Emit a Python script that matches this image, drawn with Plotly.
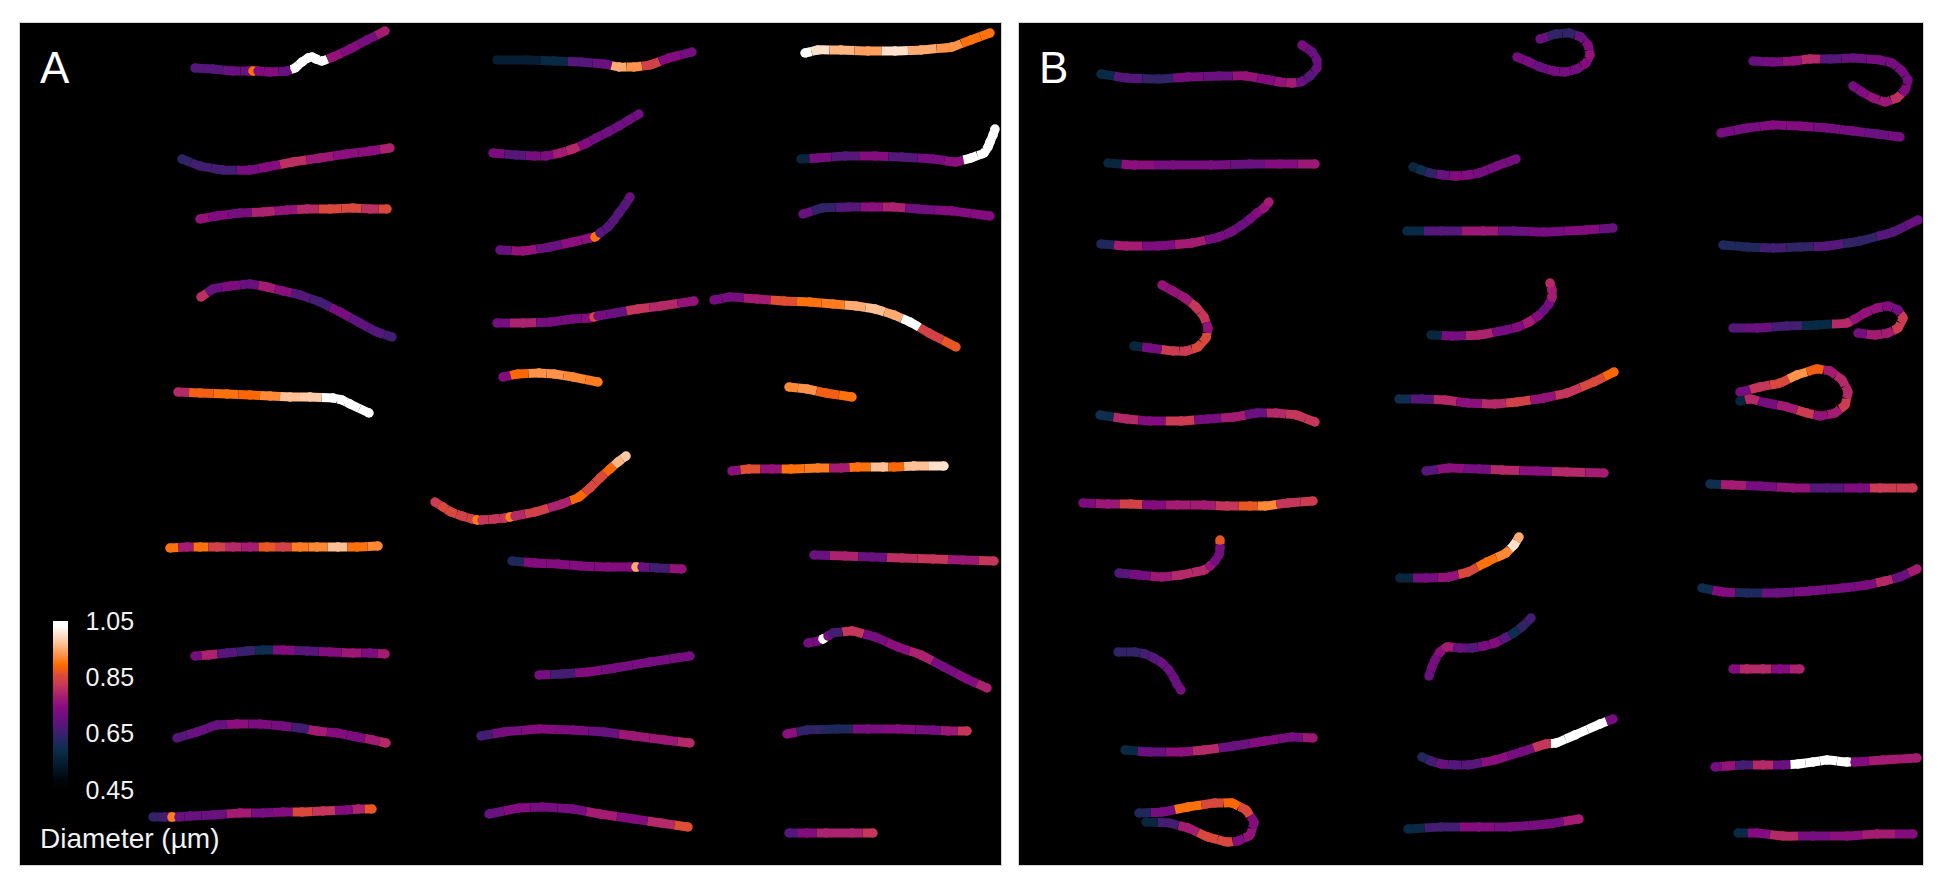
import plotly.graph_objects as go
from plotly.colors import sample_colorscale

W, H = 1951, 885
CMIN, CMAX = 0.45, 1.05

# everything below: x/y in image pixels, d = diameter in um
a01_x = [195, 213, 233, 248, 253, 258, 270, 287, 295, 302, 308, 312, 316, 322, 333, 350, 367, 385]
a01_y = [68, 69, 71, 71, 71, 71, 72, 71, 68, 62, 58, 57, 59, 61, 57, 49, 40, 31]
a01_d = [.68, .68, .70, .70, .90, .74, .74, .70, 1.05, 1.05, 1.05, 1.05, 1.05, 1.05, .76, .74, .72, .78]
a02_x = [182, 200, 223, 250, 267, 293, 320, 347, 370, 390]
a02_y = [159, 166, 170, 170, 167, 162, 158, 154, 151, 148]
a02_d = [.64, .66, .66, .72, .74, .81, .77, .75, .75, .79]
a03_x = [200, 217, 240, 263, 287, 307, 330, 353, 370, 387]
a03_y = [219, 216, 213, 212, 210, 209, 209, 208, 209, 209]
a03_d = [.76, .74, .72, .79, .76, .80, .85, .85, .81, .85]
a04_x = [201, 213, 230, 250, 267, 283, 300, 320, 340, 360, 377, 392]
a04_y = [297, 289, 286, 284, 287, 291, 295, 302, 312, 323, 332, 337]
a04_d = [.81, .70, .73, .70, .78, .75, .68, .66, .72, .69, .68, .66]
a05_x = [178, 200, 227, 250, 270, 290, 310, 333, 342, 350, 369]
a05_y = [392, 393, 394, 395, 396, 397, 397, 398, 400, 404, 413]
a05_d = [.80, .88, .90, .89, .92, .97, .98, 1.05, 1.05, 1.05, 1.05]
a06_x = [170, 187, 200, 217, 233, 250, 267, 283, 300, 317, 338, 357, 378]
a06_y = [548, 547, 547, 547, 547, 547, 547, 547, 547, 547, 547, 547, 546]
a06_d = [.90, .78, .90, .84, .80, .78, .87, .84, .91, .92, .97, .90, .92]
a07_x = [195, 208, 227, 247, 263, 283, 307, 330, 353, 370, 385]
a07_y = [656, 655, 653, 651, 650, 650, 651, 652, 653, 653, 654]
a07_d = [.72, .79, .68, .65, .60, .74, .68, .74, .77, .73, .78]
a08_x = [177, 197, 217, 237, 260, 283, 300, 317, 337, 357, 373, 386]
a08_y = [738, 732, 725, 724, 724, 726, 728, 731, 733, 737, 740, 743]
a08_d = [.68, .70, .70, .75, .73, .72, .66, .78, .74, .73, .78, .80]
a09_x = [153, 165, 172, 179, 190, 213, 240, 263, 283, 302, 323, 347, 358, 372]
a09_y = [817, 817, 817, 817, 816, 815, 813, 813, 812, 812, 811, 810, 809, 809]
a09_d = [.64, .66, .91, .70, .70, .70, .78, .72, .74, .85, .82, .74, .79, .87]
a10_x = [497, 527, 554, 581, 604, 619, 634, 650, 669, 692]
a10_y = [60, 60, 61, 62, 64, 67, 67, 65, 58, 52]
a10_d = [.55, .55, .58, .68, .70, .95, .93, .84, .74, .72]
a11_x = [493, 516, 535, 546, 560, 573, 585, 596, 608, 619, 629, 639]
a11_y = [153, 155, 156, 156, 153, 149, 144, 138, 132, 126, 120, 114]
a11_d = [.73, .68, .72, .73, .78, .80, .74, .71, .71, .71, .71, .71]
a12_x = [500, 523, 550, 573, 590, 595, 600, 608, 614, 619, 625, 630]
a12_y = [250, 251, 247, 242, 238, 237, 233, 227, 220, 213, 205, 197]
a12_d = [.70, .76, .70, .75, .75, .90, .68, .68, .68, .68, .68, .70]
a13_x = [497, 523, 550, 573, 590, 594, 598, 615, 638, 661, 694]
a13_y = [323, 323, 322, 319, 318, 317, 316, 313, 309, 306, 301]
a13_d = [.72, .79, .72, .72, .74, .85, .72, .70, .82, .80, .76]
a14_x = [503, 518, 539, 554, 573, 598]
a14_y = [377, 374, 373, 374, 377, 382]
a14_d = [.74, .89, .93, .93, .92, .91]
a15_x = [435, 443, 451, 462, 472, 477, 482, 495, 505, 510, 515, 535, 562, 579, 590, 600, 610, 618, 626]
a15_y = [502, 507, 512, 516, 519, 520, 520, 519, 518, 517, 516, 512, 504, 497, 488, 478, 469, 462, 456]
a15_d = [.83, .85, .85, .84, .84, .91, .82, .82, .82, .91, .80, .84, .79, .89, .85, .85, .89, .96, .98]
a16_x = [512, 535, 558, 581, 608, 630, 636, 642, 657, 682]
a16_y = [561, 563, 564, 566, 567, 567, 567, 567, 568, 569]
a16_d = [.62, .74, .74, .74, .74, .74, .95, .70, .66, .76]
a17_x = [539, 562, 588, 615, 650, 690]
a17_y = [675, 674, 672, 668, 662, 656]
a17_d = [.72, .66, .74, .72, .72, .72]
a18_x = [481, 504, 539, 573, 604, 634, 665, 690]
a18_y = [736, 732, 729, 730, 732, 736, 740, 743]
a18_d = [.66, .72, .74, .73, .70, .77, .77, .80]
a19_x = [489, 519, 542, 573, 600, 634, 661, 688]
a19_y = [814, 808, 807, 809, 814, 819, 823, 827]
a19_d = [.70, .74, .72, .72, .78, .74, .80, .86]
a20_x = [805, 818, 841, 868, 895, 921, 952, 971, 990]
a20_y = [53, 50, 50, 51, 51, 50, 47, 40, 33]
a20_d = [1.05, 1.0, .96, .94, 1.0, .95, .93, .90, .90]
a21_x = [801, 818, 845, 875, 902, 933, 956, 971, 984, 988, 990, 993, 995]
a21_y = [159, 158, 156, 156, 157, 159, 162, 158, 153, 147, 142, 135, 129]
a21_d = [.57, .72, .68, .74, .68, .72, .75, 1.05, 1.05, 1.05, 1.05, 1.05, 1.03]
a22_x = [803, 822, 849, 872, 893, 918, 952, 990]
a22_y = [214, 208, 207, 207, 207, 209, 211, 216]
a22_d = [.70, .64, .68, .75, .79, .71, .74, .74]
a23_x = [714, 730, 757, 784, 810, 833, 856, 875, 894, 910, 929, 956]
a23_y = [300, 297, 299, 301, 302, 304, 306, 309, 315, 322, 333, 347]
a23_d = [.72, .72, .78, .86, .90, .91, .95, .97, .95, 1.05, .84, .87]
a24_x = [789, 807, 826, 852]
a24_y = [387, 389, 393, 397]
a24_d = [.92, .93, .88, .90]
a25_x = [732, 749, 772, 791, 818, 841, 858, 883, 894, 914, 944]
a25_y = [471, 469, 469, 469, 468, 468, 467, 467, 467, 466, 466]
a25_d = [.75, .86, .76, .90, .91, .78, .90, .97, .89, .97, 1.0]
a26_x = [814, 845, 872, 902, 933, 963, 994]
a26_y = [555, 556, 557, 558, 559, 560, 561]
a26_d = [.70, .79, .70, .81, .82, .77, .82]
a27_x = [808, 818, 823, 828, 833, 852, 875, 898, 921, 944, 967, 987]
a27_y = [643, 641, 639, 636, 633, 631, 637, 647, 655, 667, 679, 688]
a27_d = [.72, .72, 1.05, .72, .66, .82, .72, .75, .79, .72, .74, .79]
a28_x = [787, 807, 837, 868, 898, 933, 948, 967]
a28_y = [734, 730, 729, 729, 729, 730, 731, 731]
a28_d = [.75, .64, .62, .72, .74, .72, .77, .82]
a29_x = [789, 807, 826, 852, 873]
a29_y = [833, 833, 833, 833, 833]
a29_d = [.68, .74, .79, .79, .82]

b01_x = [1101, 1127, 1158, 1188, 1219, 1246, 1269, 1280, 1292, 1301, 1310, 1317, 1317, 1312, 1302]
b01_y = [74, 78, 79, 77, 76, 76, 80, 82, 83, 82, 76, 68, 60, 52, 45]
b01_d = [.58, .68, .64, .72, .70, .76, .74, .76, .78, .70, .68, .70, .70, .70, .72]
b02_x = [1108, 1135, 1173, 1211, 1250, 1280, 1315]
b02_y = [163, 165, 165, 165, 164, 164, 164]
b02_d = [.57, .75, .72, .72, .70, .74, .77]
b03_x = [1101, 1127, 1158, 1192, 1219, 1231, 1242, 1250, 1257, 1264, 1269]
b03_y = [244, 246, 246, 243, 237, 232, 225, 219, 213, 208, 202]
b03_d = [.62, .78, .73, .78, .72, .72, .70, .72, .74, .76, .78]
b04_x = [1162, 1173, 1185, 1196, 1204, 1208, 1206, 1198, 1186, 1173, 1150, 1134]
b04_y = [285, 291, 298, 307, 317, 328, 338, 347, 351, 351, 348, 346]
b04_d = [.76, .76, .77, .82, .82, .76, .85, .85, .83, .83, .72, .57]
b05_x = [1100, 1127, 1150, 1181, 1208, 1234, 1257, 1276, 1296, 1315]
b05_y = [415, 419, 421, 421, 419, 417, 413, 413, 415, 422]
b05_d = [.60, .80, .74, .83, .72, .78, .70, .80, .82, .82]
b06_x = [1083, 1108, 1131, 1154, 1177, 1204, 1227, 1250, 1265, 1288, 1313]
b06_y = [503, 504, 504, 505, 505, 505, 506, 506, 506, 503, 501]
b06_d = [.73, .77, .84, .74, .78, .78, .82, .87, .92, .82, .83]
b07_x = [1119, 1139, 1162, 1181, 1204, 1210, 1215, 1219, 1220, 1220]
b07_y = [573, 575, 577, 575, 570, 566, 561, 555, 548, 540]
b07_d = [.68, .72, .77, .80, .80, .76, .72, .72, .72, .87]
b08_x = [1118, 1135, 1145, 1154, 1162, 1169, 1174, 1177, 1181]
b08_y = [652, 652, 654, 658, 663, 670, 678, 684, 690]
b08_d = [.64, .64, .66, .68, .70, .70, .70, .70, .72]
b09_x = [1125, 1150, 1181, 1204, 1234, 1265, 1292, 1313]
b09_y = [750, 752, 752, 750, 746, 741, 737, 738]
b09_d = [.58, .70, .75, .80, .70, .74, .72, .77]
b10_x = [1139, 1162, 1188, 1215, 1232, 1246, 1254, 1250, 1238, 1227, 1208, 1188, 1169, 1146]
b10_y = [813, 812, 807, 803, 803, 810, 822, 835, 841, 842, 837, 828, 823, 822]
b10_d = [.62, .72, .90, .85, .89, .85, .74, .76, .74, .85, .85, .78, .66, .57]
b11_x = [1517, 1529, 1540, 1554, 1565, 1577, 1586, 1590, 1588, 1581, 1569, 1556, 1540]
b11_y = [57, 62, 67, 71, 72, 69, 63, 55, 45, 37, 33, 34, 39]
b11_d = [.72, .72, .70, .72, .72, .72, .74, .76, .74, .70, .64, .64, .70]
b12_x = [1413, 1421, 1430, 1443, 1456, 1468, 1479, 1497, 1516]
b12_y = [167, 170, 173, 175, 176, 175, 173, 166, 159]
b12_d = [.57, .60, .64, .70, .74, .74, .72, .72, .72]
b13_x = [1407, 1441, 1483, 1514, 1544, 1586, 1613]
b13_y = [231, 231, 231, 231, 232, 230, 228]
b13_d = [.58, .68, .77, .70, .72, .74, .70]
b14_x = [1431, 1452, 1479, 1506, 1518, 1529, 1538, 1544, 1549, 1552, 1552, 1550]
b14_y = [335, 336, 335, 330, 327, 322, 316, 310, 304, 297, 290, 283]
b14_d = [.57, .72, .79, .72, .74, .78, .74, .70, .72, .78, .78, .80]
b15_x = [1399, 1422, 1445, 1468, 1495, 1517, 1544, 1567, 1594, 1614]
b15_y = [399, 399, 400, 403, 404, 402, 398, 393, 382, 372]
b15_d = [.60, .68, .80, .75, .80, .84, .76, .82, .85, .89]
b16_x = [1426, 1449, 1479, 1502, 1537, 1567, 1604]
b16_y = [471, 468, 469, 470, 471, 472, 473]
b16_d = [.68, .75, .72, .80, .75, .80, .78]
b17_x = [1400, 1426, 1449, 1468, 1487, 1506, 1514, 1519]
b17_y = [578, 578, 577, 572, 562, 553, 545, 537]
b17_d = [.57, .72, .76, .85, .90, .92, 1.0, .95]
b18_x = [1429, 1432, 1435, 1440, 1447, 1460, 1472, 1484, 1495, 1505, 1514, 1523, 1531]
b18_y = [676, 667, 660, 652, 647, 648, 648, 646, 643, 638, 633, 626, 618]
b18_d = [.70, .72, .72, .75, .78, .70, .68, .72, .74, .68, .60, .64, .66]
b19_x = [1422, 1431, 1441, 1455, 1468, 1495, 1521, 1546, 1556, 1575, 1600, 1613]
b19_y = [757, 761, 764, 765, 765, 760, 752, 744, 743, 735, 724, 719]
b19_d = [.62, .66, .70, .68, .68, .75, .72, .82, 1.05, 1.05, 1.05, .72]
b20_x = [1408, 1441, 1479, 1510, 1548, 1579]
b20_y = [829, 827, 827, 827, 824, 819]
b20_d = [.58, .66, .74, .72, .72, .78]
b21_x = [1753, 1773, 1793, 1810, 1830, 1853, 1880, 1892, 1902, 1908, 1905, 1897, 1885, 1873, 1862, 1853]
b21_y = [61, 62, 61, 59, 59, 58, 60, 63, 71, 80, 90, 98, 102, 98, 92, 86]
b21_d = [.70, .72, .76, .80, .68, .70, .72, .72, .72, .72, .74, .81, .77, .76, .74, .72]
b22_x = [1721, 1747, 1773, 1800, 1827, 1853, 1877, 1900]
b22_y = [133, 128, 125, 126, 128, 131, 134, 137]
b22_d = [.72, .72, .74, .74, .72, .72, .70, .72]
b23_x = [1723, 1747, 1773, 1800, 1827, 1860, 1893, 1918]
b23_y = [245, 247, 248, 247, 246, 241, 232, 220]
b23_d = [.62, .62, .66, .64, .68, .64, .68, .70]
b24_x = [1733, 1757, 1787, 1817, 1847, 1855, 1865, 1877, 1888, 1898, 1903, 1898, 1888, 1875, 1858]
b24_y = [328, 328, 326, 325, 323, 319, 313, 308, 306, 310, 318, 328, 333, 335, 333]
b24_d = [.68, .70, .66, .58, .80, .76, .76, .76, .74, .72, .83, .83, .78, .78, .72]
b25_x = [1740, 1760, 1780, 1797, 1817, 1830, 1842, 1848, 1845, 1835, 1820, 1807, 1787, 1767, 1750, 1740]
b25_y = [392, 387, 383, 375, 369, 371, 380, 392, 405, 413, 416, 413, 407, 403, 399, 401]
b25_d = [.72, .82, .85, .93, .88, .78, .80, .80, .83, .78, .76, .83, .78, .72, .80, .57]
b26_x = [1710, 1732, 1760, 1793, 1827, 1860, 1880, 1913]
b26_y = [484, 485, 486, 488, 488, 488, 488, 488]
b26_d = [.60, .78, .72, .76, .68, .73, .83, .83]
b27_x = [1702, 1723, 1747, 1777, 1810, 1843, 1867, 1885, 1900, 1917]
b27_y = [588, 592, 593, 593, 591, 588, 585, 581, 577, 569]
b27_d = [.60, .74, .62, .70, .72, .72, .73, .80, .70, .78]
b28_x = [1733, 1747, 1763, 1780, 1800]
b28_y = [669, 669, 669, 669, 669]
b28_d = [.74, .80, .80, .74, .79]
b29_x = [1715, 1728, 1743, 1763, 1783, 1798, 1813, 1827, 1847, 1855, 1883, 1917]
b29_y = [767, 766, 765, 765, 765, 764, 762, 760, 762, 762, 760, 758]
b29_d = [.72, .76, .66, .80, .70, 1.05, 1.05, 1.05, 1.05, .74, .78, .78]
b30_x = [1738, 1757, 1783, 1813, 1847, 1877, 1913]
b30_y = [833, 833, 836, 836, 836, 834, 834]
b30_d = [.58, .74, .80, .72, .75, .78, .74]

worms_a = [
    (a01_x, a01_y, a01_d), (a02_x, a02_y, a02_d), (a03_x, a03_y, a03_d), (a04_x, a04_y, a04_d),
    (a05_x, a05_y, a05_d), (a06_x, a06_y, a06_d), (a07_x, a07_y, a07_d), (a08_x, a08_y, a08_d),
    (a09_x, a09_y, a09_d), (a10_x, a10_y, a10_d), (a11_x, a11_y, a11_d), (a12_x, a12_y, a12_d),
    (a13_x, a13_y, a13_d), (a14_x, a14_y, a14_d), (a15_x, a15_y, a15_d), (a16_x, a16_y, a16_d),
    (a17_x, a17_y, a17_d), (a18_x, a18_y, a18_d), (a19_x, a19_y, a19_d), (a20_x, a20_y, a20_d),
    (a21_x, a21_y, a21_d), (a22_x, a22_y, a22_d), (a23_x, a23_y, a23_d), (a24_x, a24_y, a24_d),
    (a25_x, a25_y, a25_d), (a26_x, a26_y, a26_d), (a27_x, a27_y, a27_d), (a28_x, a28_y, a28_d),
    (a29_x, a29_y, a29_d),
]
worms_b = [
    (b01_x, b01_y, b01_d), (b02_x, b02_y, b02_d), (b03_x, b03_y, b03_d), (b04_x, b04_y, b04_d),
    (b05_x, b05_y, b05_d), (b06_x, b06_y, b06_d), (b07_x, b07_y, b07_d), (b08_x, b08_y, b08_d),
    (b09_x, b09_y, b09_d), (b10_x, b10_y, b10_d), (b11_x, b11_y, b11_d), (b12_x, b12_y, b12_d),
    (b13_x, b13_y, b13_d), (b14_x, b14_y, b14_d), (b15_x, b15_y, b15_d), (b16_x, b16_y, b16_d),
    (b17_x, b17_y, b17_d), (b18_x, b18_y, b18_d), (b19_x, b19_y, b19_d), (b20_x, b20_y, b20_d),
    (b21_x, b21_y, b21_d), (b22_x, b22_y, b22_d), (b23_x, b23_y, b23_d), (b24_x, b24_y, b24_d),
    (b25_x, b25_y, b25_d), (b26_x, b26_y, b26_d), (b27_x, b27_y, b27_d), (b28_x, b28_y, b28_d),
    (b29_x, b29_y, b29_d), (b30_x, b30_y, b30_d),
]

colorbar_ticks = [0.45, 0.65, 0.85, 1.05]
colorbar_labels = ["0.45", "0.65", "0.85", "1.05"]

# black - navy - purple - crimson - orange - white, matched to the colorbar in the picture
DIAMETER_SCALE = [
    [0.00, "#000000"],
    [0.06, "#01060c"],
    [0.14, "#04182a"],
    [0.24, "#0a2f4c"],
    [0.31, "#2c2464"],
    [0.37, "#4f1a78"],
    [0.42, "#6a1080"],
    [0.49, "#860c7e"],
    [0.56, "#a81f70"],
    [0.62, "#c6385a"],
    [0.68, "#dd4c35"],
    [0.74, "#ff6a00"],
    [0.81, "#ff9a55"],
    [0.89, "#ffd0b0"],
    [0.97, "#ffffff"],
    [1.00, "#ffffff"],
]


def to_color(d):
    t = min(max((d - CMIN) / (CMAX - CMIN), 0), 1)
    return sample_colorscale(DIAMETER_SCALE, [t])[0]


def add_worms(fig, worms, xaxis, yaxis, show_scale):
    all_x, all_y, all_d = [], [], []
    for xs, ys, ds in worms:
        # each point owns the line up to halfway towards its neighbours
        for i in range(len(xs)):
            px, py = [], []
            if i > 0:
                px.append((xs[i - 1] + xs[i]) / 2)
                py.append((ys[i - 1] + ys[i]) / 2)
            px.append(xs[i])
            py.append(ys[i])
            if i < len(xs) - 1:
                px.append((xs[i] + xs[i + 1]) / 2)
                py.append((ys[i] + ys[i + 1]) / 2)
            fig.add_trace(go.Scatter(
                x=px, y=py, mode="lines", xaxis=xaxis, yaxis=yaxis,
                line={"color": to_color(ds[i]), "width": 9, "shape": "spline", "smoothing": 1},
                hoverinfo="skip", showlegend=False,
            ))
        all_x += xs
        all_y += ys
        all_d += ds

    # round dots on top give the beaded look and the round ends
    marker = {
        "size": 9.5, "color": all_d, "colorscale": DIAMETER_SCALE,
        "cmin": CMIN, "cmax": CMAX, "showscale": show_scale, "line": {"width": 0},
    }
    if show_scale:
        marker["colorbar"] = {
            "x": 53 / W, "xanchor": "left", "xpad": 0,
            "y": 1 - 621 / H, "yanchor": "top", "ypad": 0,
            "len": 169, "lenmode": "pixels", "thickness": 15, "thicknessmode": "pixels",
            "tickvals": colorbar_ticks, "ticktext": colorbar_labels,
            "ticks": "outside", "ticklen": 13, "tickcolor": "rgba(0,0,0,0)",
            "tickfont": {"family": "Liberation Sans", "size": 25, "color": "#f2f2f2"},
            "outlinewidth": 0, "borderwidth": 0, "bgcolor": "rgba(0,0,0,0)",
        }
    fig.add_trace(go.Scatter(
        x=all_x, y=all_y, mode="markers", xaxis=xaxis, yaxis=yaxis,
        marker=marker, hovertemplate="%{marker.color:.2f} µm<extra></extra>", showlegend=False,
    ))


fig = go.Figure()
add_worms(fig, worms_a, "x", "y", True)
add_worms(fig, worms_b, "x2", "y2", False)

panel_axis = {
    "showgrid": False, "zeroline": False, "showticklabels": False, "ticks": "",
    "showline": True, "linecolor": "#d4d4d4", "linewidth": 1, "mirror": True,
}
y_domain = [1 - 865 / H, 1 - 23 / H]
fig.update_layout(
    width=W, height=H, margin={"l": 0, "r": 0, "t": 0, "b": 0},
    paper_bgcolor="white", plot_bgcolor="black", showlegend=False,
    xaxis={**panel_axis, "domain": [20 / W, 1001 / W], "range": [20, 1001]},
    yaxis={**panel_axis, "domain": y_domain, "range": [865, 23]},
    xaxis2={**panel_axis, "domain": [1019 / W, 1923 / W], "range": [1019, 1923]},
    yaxis2={**panel_axis, "domain": y_domain, "range": [865, 23], "anchor": "x2"},
)
fig.update_layout(xaxis2_anchor="y2")

label_font = {"family": "Liberation Sans", "size": 44, "color": "white"}
fig.add_annotation(x=38, y=68, xref="x", yref="y", text="A", showarrow=False, xanchor="left", font=label_font)
fig.add_annotation(x=1037, y=68, xref="x2", yref="y2", text="B", showarrow=False, xanchor="left", font=label_font)
fig.add_annotation(
    x=38, y=838, xref="x", yref="y", text="Diameter (µm)", showarrow=False, xanchor="left",
    font={"family": "Liberation Sans", "size": 28, "color": "#f2f2f2"},
)

fig.write_html("out.html", config={"displayModeBar": False}, post_script="document.body.style.margin='0';")
